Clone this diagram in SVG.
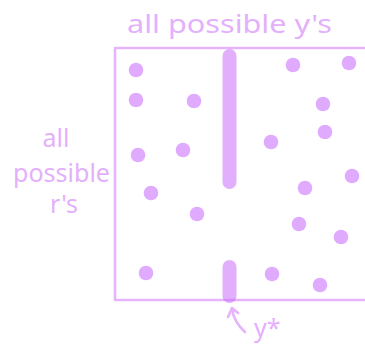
<svg xmlns="http://www.w3.org/2000/svg" width="365" height="345" viewBox="0 0 365 345">
<style>
.lbl{font-family:"Noto Sans","Liberation Sans",sans-serif;font-size:25px;fill:#e4b0fc}
.dot{fill:#e0abfe}
.bar{stroke:rgb(200,110,250);stroke-opacity:0.55;stroke-width:14;stroke-linecap:round;fill:none}
.ln{stroke:#e6b4fc;fill:none;stroke-width:2.6;stroke-linecap:round;stroke-linejoin:round}
</style>
<rect width="365" height="345" fill="#fff"/>
<g id="box"><path class="ln" d="M368 48 H115 V300 H368"/></g>
<g id="top-label"><text class="lbl" x="127" y="33" textLength="205" lengthAdjust="spacingAndGlyphs">all possible y's</text></g>
<g id="left-label">
<text class="lbl" x="56" y="147" text-anchor="middle">all</text>
<text class="lbl" x="13" y="182" textLength="97" lengthAdjust="spacingAndGlyphs">possible</text>
<text class="lbl" x="64" y="213" text-anchor="middle">r's</text>
</g>
<g id="dots">
<circle class="dot" cx="136" cy="70" r="7.3"/>
<circle class="dot" cx="136" cy="100" r="7.3"/>
<circle class="dot" cx="194" cy="101" r="7.3"/>
<circle class="dot" cx="293" cy="65" r="7.3"/>
<circle class="dot" cx="349" cy="63" r="7.3"/>
<circle class="dot" cx="323" cy="104" r="7.3"/>
<circle class="dot" cx="138" cy="155" r="7.3"/>
<circle class="dot" cx="183" cy="150" r="7.3"/>
<circle class="dot" cx="271" cy="142" r="7.3"/>
<circle class="dot" cx="325" cy="132" r="7.3"/>
<circle class="dot" cx="352" cy="176" r="7.3"/>
<circle class="dot" cx="151" cy="193" r="7.3"/>
<circle class="dot" cx="305" cy="188" r="7.3"/>
<circle class="dot" cx="197" cy="214" r="7.3"/>
<circle class="dot" cx="299" cy="224" r="7.3"/>
<circle class="dot" cx="341" cy="237" r="7.3"/>
<circle class="dot" cx="146" cy="273" r="7.3"/>
<circle class="dot" cx="272" cy="274" r="7.3"/>
<circle class="dot" cx="320" cy="285" r="7.3"/>
</g>
<g id="bars">
<line class="bar" x1="229.5" y1="56" x2="229.5" y2="182"/>
<line class="bar" x1="229.5" y1="267" x2="229.5" y2="296"/>
</g>
<g id="connectors">
<path class="ln" d="M245 332 Q234 322 232 309"/>
<path class="ln" d="M228 317 L232 308 L238 313"/>
</g>
<g id="ystar-label"><text class="lbl" x="254" y="337">y*</text></g>
</svg>
